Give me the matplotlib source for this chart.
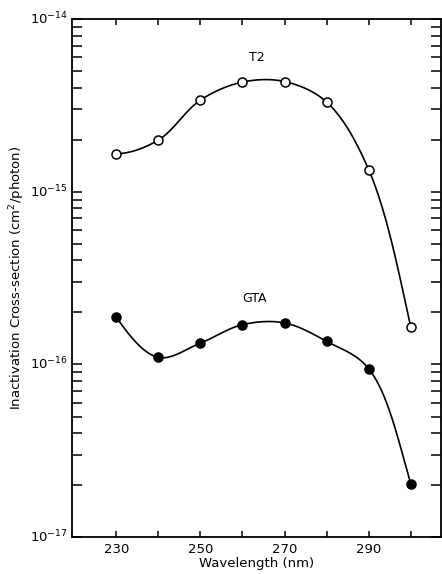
import numpy as np
import matplotlib.pyplot as plt
from matplotlib.ticker import FixedLocator, LogLocator, NullFormatter

wavelength = [230, 240, 250, 260, 270, 280, 290, 300]
t2 = [1.66e-15, 1.99e-15, 3.39e-15, 4.31e-15, 4.34e-15, 3.30e-15, 1.34e-15, 1.64e-16]
gta = [1.88e-16, 1.10e-16, 1.33e-16, 1.70e-16, 1.74e-16, 1.36e-16, 9.45e-17, 2.03e-17]
xtick_labels = ["230", "", "250", "", "270", "", "290", ""]
ytick_vals = [1e-17, 1e-16, 1e-15, 1e-14]
ytick_labels = ["$10^{-17}$", "$10^{-16}$", "$10^{-15}$", "$10^{-14}$"]


def catmull_rom(pts, n_seg=40, alpha=0.5):
    # centripetal Catmull-Rom through points given in display coords,
    # end points continued by quadratic extrapolation
    pts = np.asarray(pts, float)
    first = 3 * pts[0] - 3 * pts[1] + pts[2]
    last = 3 * pts[-1] - 3 * pts[-2] + pts[-3]
    P = np.vstack([first, pts, last])
    out = []
    for i in range(1, len(P) - 2):
        p0, p1, p2, p3 = P[i - 1], P[i], P[i + 1], P[i + 2]
        t0 = 0.0
        t1 = t0 + np.linalg.norm(p1 - p0) ** alpha
        t2 = t1 + np.linalg.norm(p2 - p1) ** alpha
        t3 = t2 + np.linalg.norm(p3 - p2) ** alpha
        for t in np.linspace(t1, t2, n_seg, endpoint=False):
            a1 = (t1 - t) / (t1 - t0) * p0 + (t - t0) / (t1 - t0) * p1
            a2 = (t2 - t) / (t2 - t1) * p1 + (t - t1) / (t2 - t1) * p2
            a3 = (t3 - t) / (t3 - t2) * p2 + (t - t2) / (t3 - t2) * p3
            b1 = (t2 - t) / (t2 - t0) * a1 + (t - t0) / (t2 - t0) * a2
            b2 = (t3 - t) / (t3 - t1) * a2 + (t - t1) / (t3 - t1) * a3
            out.append((t2 - t) / (t2 - t1) * b1 + (t - t1) / (t2 - t1) * b2)
    out.append(pts[-1])
    return np.array(out)


plt.rcParams["font.family"] = "DejaVu Sans"
fig = plt.figure(figsize=(4.42, 5.74), dpi=100)
ax = fig.add_axes([0.163, 0.064, 0.835, 0.903])
ax.set_yscale("log")
ax.set_ylim(1e-17, 1e-14)
ax.set_xlim(219.5, 307.2)

for vals, face in [(t2, "white"), (gta, "black")]:
    disp = ax.transData.transform(np.column_stack([wavelength, vals]))
    curve = ax.transData.inverted().transform(catmull_rom(disp))
    ax.plot(curve[:, 0], curve[:, 1], color="black", lw=1.2, zorder=2)
    ax.plot(wavelength, vals, "o", ms=6.5, mfc=face, mec="black", mew=1.1, zorder=3)

ax.text(263.5, 6.0e-15, "T2", ha="center", va="center", fontsize=9)
ax.text(262.8, 2.4e-16, "GTA", ha="center", va="center", fontsize=9)

ax.xaxis.set_major_locator(FixedLocator(wavelength))
ax.set_xticklabels(xtick_labels)
ax.yaxis.set_major_locator(FixedLocator(ytick_vals))
ax.set_yticklabels(ytick_labels)
ax.yaxis.set_minor_locator(LogLocator(base=10, subs=np.arange(2, 10), numticks=20))
ax.yaxis.set_minor_formatter(NullFormatter())
for lbl in ax.get_yticklabels():
    lbl.set_va("center")

ax.tick_params(axis="x", which="both", direction="in", top=True, length=4, width=1.1,
               labelsize=9.5, pad=4)
ax.tick_params(axis="y", which="both", direction="in", right=True, length=7, width=1.1,
               labelsize=9.5, pad=3)
for s in ax.spines.values():
    s.set_linewidth(1.3)

ax.set_xlabel("Wavelength (nm)", fontsize=9.5, labelpad=1)
ax.set_ylabel("Inactivation Cross-section (cm$^2$/photon)", fontsize=9.5, labelpad=2)

fig.savefig("out.png", dpi=100)
